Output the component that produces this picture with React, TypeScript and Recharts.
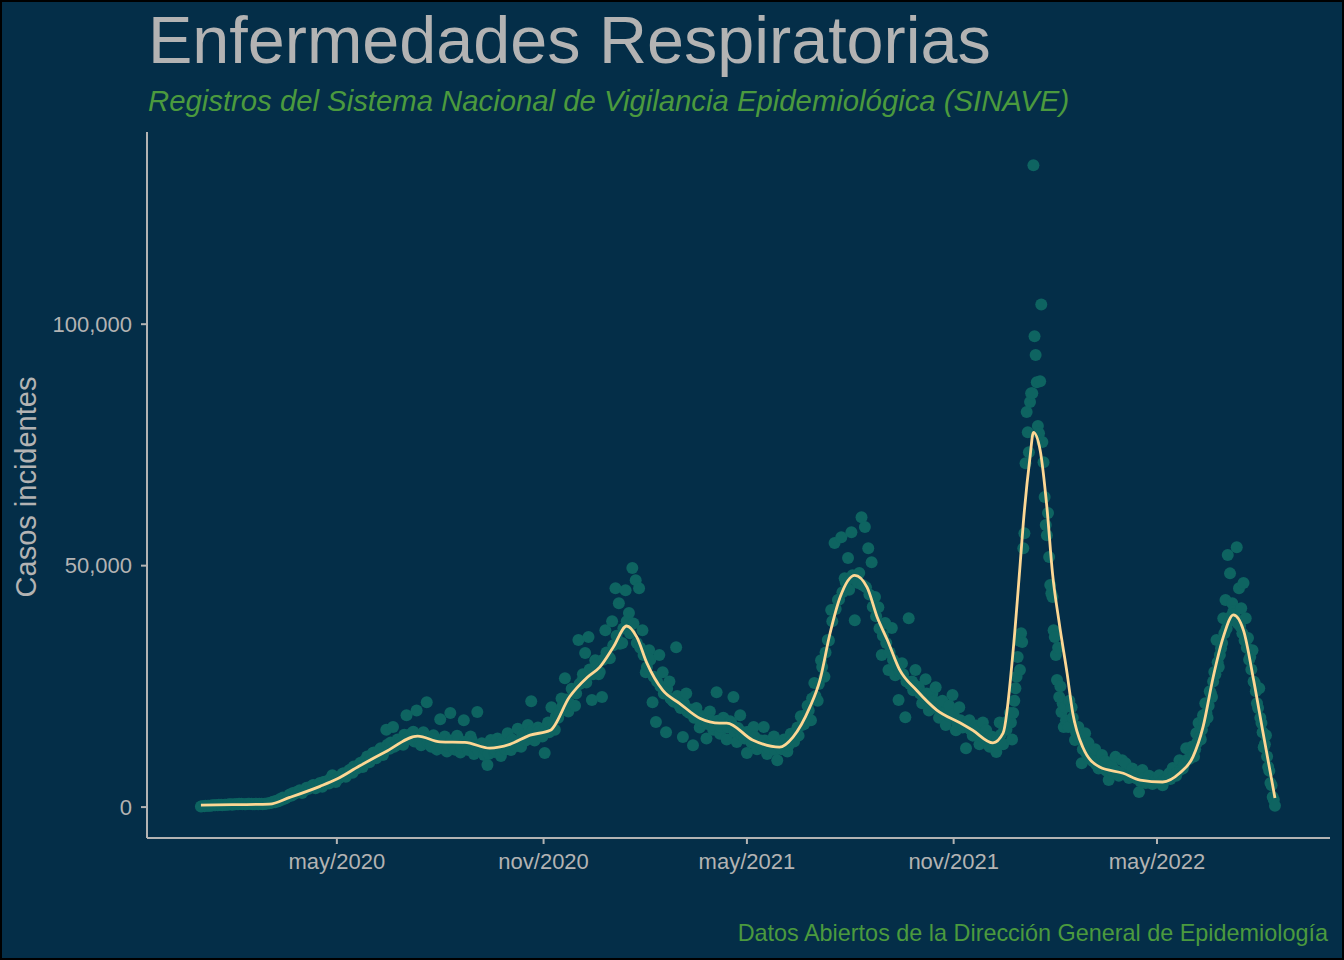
import { ComposedChart, Scatter, Line, XAxis, YAxis } from "recharts";

const BG = "#042e48";
const GREY = "#b3b3b3";
const GREEN = "#4b9a3e";
const POINT = "#0e6461";
const SMOOTH = "#fdd794";
const FONT = "'Liberation Sans', Arial, Helvetica, sans-serif";

// daily incident cases, in thousands; day 0 = 2020-01-01
// days 0..720, one reading every 3 days
const casesEvery3Days = [
  0.1, 0.2, 0.3, 0.3, 0.4, 0.4, 0.5, 0.5, 0.5, 0.6, 0.6, 0.6, 0.7, 0.6, 0.7, 0.7, 0.6, 0.6, 0.7, 0.7, 0.8,
  0.9, 1.0, 1.2, 1.5, 1.8, 2.2, 2.4, 2.8, 3.3, 2.9, 3.6, 3.8, 4.4, 3.9, 4.8, 4.2, 5.3, 4.9, 6.6, 5.2,
  6.0, 6.9, 6.3, 7.6, 7.1, 8.2, 8.8, 8.3, 9.9, 9.3, 11.2, 10.1, 11.8, 10.8, 16.0, 12.1, 16.6, 12.8, 13.8, 12.9, 19.0, 14.2, 15.6, 20.0,
  13.2, 15.5, 21.7, 12.8, 14.9, 11.9, 18.2, 13.0, 11.5, 19.5, 12.2, 14.8, 11.3, 18.0, 12.5, 14.6, 11.0, 19.7,
  12.7, 10.8, 8.7, 13.9, 11.4, 14.2, 10.6, 12.4, 15.3, 11.8, 13.6, 16.2, 12.5, 14.9, 17.0, 21.9, 13.8, 16.5,
  14.8, 11.2, 17.5, 20.7, 16.0, 18.5, 22.5, 26.7, 19.8, 24.5, 21.0, 34.6, 26.0, 31.9, 35.2, 22.2, 30.4, 27.5,
  22.8, 36.6, 31.0, 38.5, 45.3, 42.2, 34.0, 44.9,
  40.2, 49.5, 47.0, 45.3, 36.6, 27.9, 32.5, 21.7, 17.6, 31.5, 27.9, 15.5, 26.0, 22.0, 33.1, 21.0, 14.5,
  23.5, 19.5, 12.8, 20.5, 16.5, 18.8, 14.2, 19.8, 16.0, 23.8, 15.2, 18.5, 14.0, 17.8, 22.8, 13.5, 19.0,
  15.5, 11.2, 14.8, 16.6, 12.0, 13.8, 16.6, 11.0, 13.2, 14.6, 9.7, 12.4, 14.0, 11.5, 15.2, 13.6, 16.5, 18.8, 17.2, 21.0,
  18.0, 25.7, 22.0, 30.4, 27.0, 34.6, 40.8, 54.7, 42.9, 55.9, 47.4, 51.6, 56.9, 38.7, 46.4, 60.0, 58.0, 53.6, 50.7, 43.5,
  41.4, 31.5, 38.1, 28.4, 37.1, 27.3, 22.2, 29.8, 18.6, 39.1, 26.0, 28.4, 24.8, 21.5, 26.5, 20.0, 23.5, 24.8, 18.5, 22.0,
  17.0, 21.0, 23.2, 15.9, 20.7, 16.5, 12.2, 18.0, 14.8, 16.9, 13.0, 17.5, 15.9, 12.5, 14.5, 11.4, 17.5, 13.0, 16.0, 19.5,
];

// days 1..718, every 3 days (the readings in between the ones above)
const casesEvery3DaysB = [
  0.2, 0.3, 0.3, 0.4, 0.4, 0.5, 0.4, 0.5, 0.6, 0.5, 0.6, 0.7, 0.6, 0.6, 0.7, 0.6, 0.7, 0.7, 0.6, 0.7,
  0.8, 1.1, 1.3, 1.6, 2.0, 2.0, 2.6, 2.9, 3.1, 3.5, 3.3, 4.0, 4.1, 4.6, 4.4, 5.0, 5.2, 5.0, 5.8, 5.5,
  5.8, 6.4, 7.0, 6.8, 7.8, 8.4, 8.0, 9.2, 9.5, 10.5, 10.0, 11.3, 11.0, 12.2, 11.6, 12.9, 13.4, 12.5, 14.0, 13.3, 15.0, 14.0, 15.2, 13.6,
  14.2, 12.8, 15.0, 13.4, 12.5, 14.3, 13.0, 12.2, 14.6, 12.7, 13.8, 11.9, 14.2, 12.6, 13.5, 11.8, 13.9, 12.5,
  11.6, 13.2, 12.0, 11.0, 12.9, 11.7, 12.4, 13.6, 11.9, 12.8, 14.0, 12.6, 13.5, 15.0, 13.8, 14.6, 15.8, 14.2,
  15.8, 14.6, 16.5, 15.5, 17.5, 18.8, 19.5, 21.0, 22.3, 21.5, 24.2, 23.5, 25.5, 27.5, 25.8, 28.5, 27.5, 29.5,
  28.0, 30.5, 32.0, 30.8, 33.5, 35.5, 33.8, 37.0,
  38.5, 36.0, 38.0, 34.0, 33.0, 31.5, 29.0, 30.5, 27.0, 26.0, 25.0, 23.5, 24.5, 22.5, 21.8, 23.0, 20.5,
  21.5, 19.8, 20.2, 18.5, 19.2, 17.6, 18.6, 17.2, 18.0, 16.8, 17.9, 16.6, 18.2, 16.5, 17.5, 15.5, 16.4,
  15.0, 14.2, 15.6, 13.3, 14.5, 13.0, 12.5, 13.8, 12.2, 13.0, 11.8, 12.9, 12.0, 13.5, 12.8, 14.2, 15.5, 14.8, 17.0, 19.0,
  20.0, 22.5, 23.0, 25.5, 29.0, 32.0, 34.5, 38.5, 41.0, 43.0, 44.5, 46.5, 45.0, 48.0, 47.0, 48.5, 46.0, 45.5, 44.0, 41.5,
  39.5, 37.0, 35.5, 34.0, 32.0, 30.5, 29.5, 28.0, 27.5, 26.0, 25.5, 24.2, 25.0, 23.5, 22.8, 23.5, 21.5, 22.0, 20.5, 21.0,
  19.5, 20.0, 18.8, 19.2, 17.5, 18.0, 16.8, 17.5, 16.0, 15.5, 16.2, 14.8, 15.0, 13.8, 14.6, 13.0, 14.2, 15.0, 16.5, 17.8,
];

// days 721..770, daily (omicron wave)
const casesOmicronDaily = [
  17.5, 14.0, 19.5, 22.0, 24.6, 27.0, 31.1, 34.5, 28.4, 36.0,
  34.2, 53.6, 56.7, 71.2, 81.8, 77.6, 73.5, 83.9, 85.7, 85.7,
  132.9, 97.5, 93.6, 88.0, 78.9, 77.4, 88.2, 104.1, 75.6, 71.4,
  64.2, 58.4, 56.3, 60.9, 51.8, 46.0, 44.3, 43.5, 36.6, 35.2,
  31.5, 26.3, 33.0, 22.8, 25.0, 19.7, 21.5, 16.6, 20.7, 18.0,
];

// days 772..880, every 3 days
const casesSpring2022 = [
  16.6, 20.7, 13.9, 16.6, 9.1, 15.3, 13.3, 10.0, 12.0, 8.0, 10.8, 9.5, 5.6, 8.5, 10.4, 6.5, 9.7, 9.1, 6.0,
  8.0, 7.2, 3.1, 7.7, 5.0, 6.5, 4.8, 6.0, 6.6, 4.5, 5.8, 7.0, 8.1, 6.5, 9.7, 8.0, 12.2, 10.0,
];

// days 773..878, every 3 days
const casesSpring2022B = [
  22.0, 18.5, 15.5, 14.0, 12.0, 11.2, 10.0, 9.5, 8.8, 8.2, 8.0, 7.5, 7.8, 7.2, 7.5, 6.8, 7.2, 6.6,
  6.8, 6.2, 5.9, 5.4, 6.0, 5.2, 5.6, 5.0, 5.4, 5.0, 5.6, 6.0, 5.8, 6.8, 7.2, 7.8, 8.8, 9.8,
];

// days 882..956, every 2 days
const casesSummer2022 = [
  12.5, 10.5, 15.3, 17.4, 14.0, 19.0, 21.5, 18.5, 24.0, 22.8, 28.0, 34.6, 29.0, 32.9, 39.1, 42.9, 52.2, 48.4, 42.2,
  40.0, 53.8, 45.3, 41.2, 46.4, 39.1, 35.0, 31.1, 32.5, 25.7, 21.5, 24.6, 17.4, 12.4, 14.9, 8.3, 5.0, 2.1, 0.3,
];

// days 883..955, every 2 days
const casesSummer2022B = [
  11.0, 12.0, 13.5, 14.5, 16.0, 17.5, 19.5, 21.0, 23.5, 26.0, 27.5, 30.0, 31.5, 34.0, 36.0, 37.0, 38.5, 39.5, 40.5,
  39.0, 38.0, 37.5, 36.0, 34.5, 33.0, 30.5, 28.5, 26.0, 24.0, 20.5, 18.5, 15.5, 13.0, 10.5, 7.5, 4.5, 1.5,
];

// smoothed trend (thousands)
const smoothDays = [
  0, 30, 61, 79, 106, 121, 141, 164, 193, 213, 235, 257, 275, 293, 311, 328, 344, 355, 367, 379,
  388, 397, 411, 426, 444, 462, 468, 491, 515, 527, 542, 551, 560, 569, 582, 593, 602, 611, 622, 637,
  655, 676, 687, 705, 714, 723, 729, 732, 738, 741, 747, 753, 758, 764, 771, 776, 785, 800, 821, 836,
  856, 871, 883, 892, 901, 910, 919, 928, 937, 945, 956,
];
const smoothCases = [
  0.4, 0.5, 0.6, 2.0, 4.3, 5.8, 8.5, 11.4, 14.7, 13.5, 13.4, 12.2, 13.0, 14.9, 15.9, 22.8, 26.9, 29.0, 33.1, 37.5,
  35.2, 29.8, 24.2, 21.5, 18.4, 17.4, 17.4, 13.9, 12.4, 14.5, 20.7, 26.3, 36.0, 43.5, 48.0, 45.5, 39.3, 34.6, 28.4, 24.2,
  20.1, 17.4, 15.9, 13.3, 15.3, 32.5, 49.7, 58.8, 72.5, 77.6, 73.9, 62.1, 48.4, 38.1, 27.7, 19.5, 12.4, 8.3, 7.0, 5.6,
  5.2, 7.0, 10.4, 16.6, 26.9, 35.2, 39.8, 36.6, 26.3, 15.9, 1.9,
];

const xTickDays = [121, 305, 486, 670, 851];
const xTickLabels = ["may/2020", "nov/2020", "may/2021", "nov/2021", "may/2022"];
const yTicks = [0, 50, 100];

const segments = [
  { start: 0, step: 3, values: casesEvery3Days },
  { start: 1, step: 3, values: casesEvery3DaysB },
  { start: 721, step: 1, values: casesOmicronDaily },
  { start: 772, step: 3, values: casesSpring2022 },
  { start: 773, step: 3, values: casesSpring2022B },
  { start: 882, step: 2, values: casesSummer2022 },
  { start: 883, step: 2, values: casesSummer2022B },
];

const scatterData = segments
  .flatMap((s) => s.values.map((cases, i) => ({ day: s.start + i * s.step, cases })))
  .sort((a, b) => a.day - b.day);
const smoothData = smoothDays.map((day, i) => ({ day, cases: smoothCases[i] }));

const W = 1344;
const H = 960;
const MARGIN = { top: 132, right: 14, bottom: 92, left: 47 };
const X_DOMAIN: [number, number] = [-48, 1005];
const Y_DOMAIN: [number, number] = [-6.4, 139.8];
const tickStyle = { fill: GREY, fontSize: 22, fontFamily: FONT };
const axisStroke = { stroke: GREY, strokeWidth: 2 };

// same axes in both layers so the smooth line sits on top of the points
function Axes({ visible }: { visible: boolean }) {
  return [
    <XAxis
      key="x"
      dataKey="day"
      type="number"
      domain={X_DOMAIN}
      allowDataOverflow
      ticks={xTickDays}
      tickFormatter={(d) => xTickLabels[xTickDays.indexOf(d)] ?? ""}
      tick={visible ? tickStyle : false}
      axisLine={visible ? axisStroke : false}
      tickLine={visible ? axisStroke : false}
      tickSize={6}
      tickMargin={9}
      height={30}
    />,
    <YAxis
      key="y"
      type="number"
      domain={Y_DOMAIN}
      allowDataOverflow
      ticks={yTicks}
      tickFormatter={(v) => (v * 1000).toLocaleString("en-US")}
      tick={visible ? tickStyle : false}
      axisLine={visible ? axisStroke : false}
      tickLine={visible ? axisStroke : false}
      tickSize={6}
      tickMargin={9}
      width={100}
    />,
  ];
}

export default function App() {
  return (
    <div
      style={{
        position: "absolute",
        left: 0,
        top: 0,
        width: W,
        height: H,
        background: BG,
        boxShadow: "inset 0 0 0 2px #000",
        overflow: "hidden",
      }}
    >
      <ComposedChart width={W} height={H} margin={MARGIN}>
        {Axes({ visible: true })}
        <Scatter
          data={scatterData}
          dataKey="cases"
          fill={POINT}
          isAnimationActive={false}
          shape={(p: any) => <circle cx={p.cx} cy={p.cy} r={6} fill={POINT} />}
        />
      </ComposedChart>
      <div style={{ position: "absolute", left: 0, top: 0 }}>
        <ComposedChart width={W} height={H} margin={MARGIN}>
          {Axes({ visible: false })}
          <Line
            data={smoothData}
            dataKey="cases"
            type="monotone"
            stroke={SMOOTH}
            strokeWidth={2.8}
            dot={false}
            activeDot={false}
            isAnimationActive={false}
          />
        </ComposedChart>
      </div>
      <svg
        width={W}
        height={H}
        style={{ position: "absolute", left: 0, top: 0, pointerEvents: "none" }}
      >
        <text x={148} y={63} fill={GREY} fontSize={66.5} fontFamily={FONT}>
          Enfermedades Respiratorias
        </text>
        <text x={148} y={111} fill={GREEN} fontSize={29.3} fontStyle="italic" fontFamily={FONT}>
          Registros del Sistema Nacional de Vigilancia Epidemiológica (SINAVE)
        </text>
        <text
          x={36}
          y={487}
          fill={GREY}
          fontSize={29}
          fontFamily={FONT}
          textAnchor="middle"
          transform="rotate(-90 36 487)"
        >
          Casos incidentes
        </text>
        <text x={1328} y={941} fill={GREEN} fontSize={23.4} fontFamily={FONT} textAnchor="end">
          Datos Abiertos de la Dirección General de Epidemiología
        </text>
      </svg>
    </div>
  );
}
